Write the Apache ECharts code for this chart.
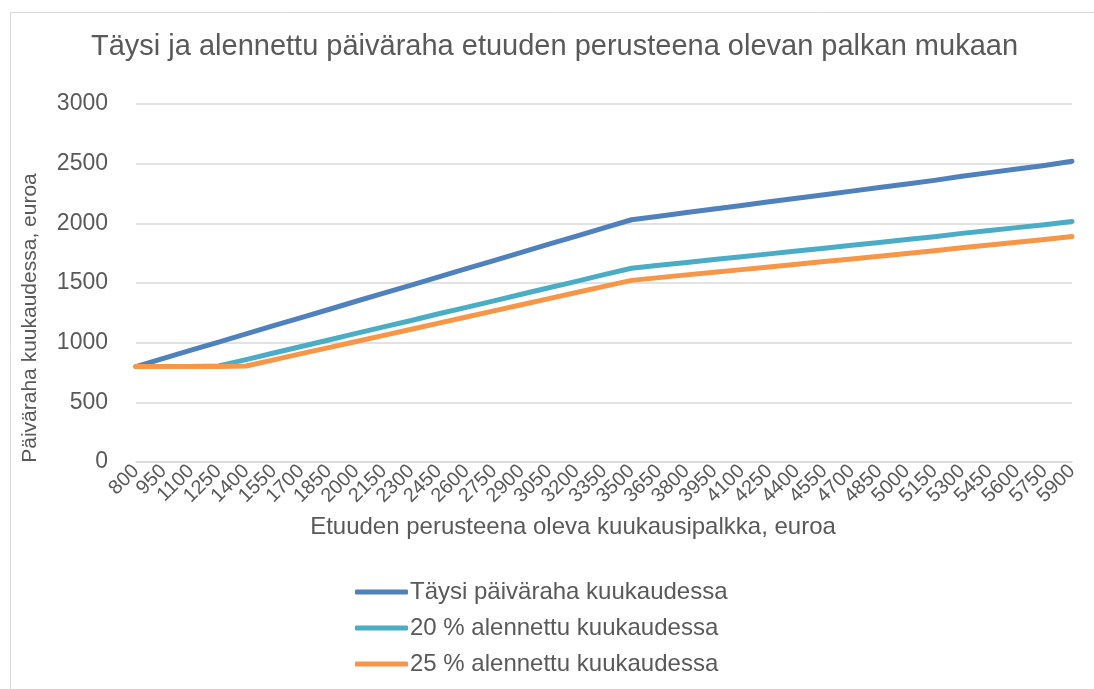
<!DOCTYPE html>
<html>
<head>
<meta charset="utf-8">
<script src="https://cdn.jsdelivr.net/npm/echarts@6/dist/echarts.min.js"></script>
<style>
  html, body { margin: 0; padding: 0; background: #fff; }
  #chart { width: 1094px; height: 689px; }
</style>
</head>
<body>
<div id="chart"></div>
<script>
// kuukausipalkka, euroa
var palkat = ['800','950','1100','1250','1400','1550','1700','1850','2000','2150','2300','2450','2600','2750','2900','3050','3200','3350','3500',
    '3650','3800','3950','4100','4250','4400','4550','4700','4850','5000','5150','5300','5450','5600','5750','5900'];
// Täysi päiväraha kuukaudessa
var taysi = [800,868,937,1005,1073,1142,1210,1278,1347,1415,1483,1552,1620,1688,1757,1825,1893,1962,2030,
    2060,2090,2120,2150,2180,2210,2240,2270,2300,2330,2360,2395,2425,2455,2485,2520];
// 20 % alennettu kuukaudessa
var alennettu20 = [800,800,800,805,858,913,968,1022,1078,1132,1186,1242,1296,1350,1406,1460,1514,1570,1624,
    1648,1672,1696,1720,1744,1768,1792,1816,1840,1864,1888,1916,1940,1964,1988,2016];
// 25 % alennettu kuukaudessa
var alennettu25 = [800,800,800,800,805,856,908,958,1010,1061,1112,1164,1215,1266,1318,1369,1420,1472,1522,
    1545,1568,1590,1612,1635,1658,1680,1702,1725,1748,1770,1796,1819,1841,1864,1890];

var teksti = '#595959';
var fontti = '"Liberation Sans", Arial, sans-serif';

var chart = echarts.init(document.getElementById('chart'));
chart.setOption({
    animation: false,
    textStyle: { fontFamily: fontti },
    // kehys
    graphic: [{
        type: 'rect',
        shape: { x: 10.5, y: 12.5, width: 1200, height: 800 },
        style: { fill: 'none', stroke: '#d9d9d9', lineWidth: 1 },
        silent: true
    }],
    title: {
        text: 'Täysi ja alennettu päiväraha etuuden perusteena olevan palkan mukaan',
        left: 86,
        top: 27,
        textStyle: { fontFamily: fontti, fontSize: 29, fontWeight: 'normal', color: teksti }
    },
    grid: { left: 136, right: 22, top: 104, bottom: 227 },
    xAxis: {
        type: 'category',
        data: palkat,
        boundaryGap: false,
        name: 'Etuuden perusteena oleva kuukausipalkka, euroa',
        nameLocation: 'middle',
        nameGap: 53,
        nameTextStyle: { fontFamily: fontti, fontSize: 24, color: teksti, padding: [0, 62, 0, 0] },
        axisLine: { lineStyle: { color: '#d9d9d9', width: 1.5 } },
        axisTick: { show: false },
        axisLabel: { interval: 0, rotate: 45, fontFamily: fontti, fontSize: 20, color: teksti, margin: 6 }
    },
    yAxis: {
        type: 'value',
        min: 0,
        max: 3000,
        interval: 500,
        name: 'Päiväraha kuukaudessa, euroa',
        nameLocation: 'middle',
        nameGap: 95,
        nameTextStyle: { fontFamily: fontti, fontSize: 21, color: teksti, padding: [0, 70, 0, 0] },
        axisLine: { show: false },
        axisTick: { show: false },
        axisLabel: {
            fontFamily: fontti, fontSize: 23, color: teksti, margin: 28,
            formatter: function (v) { return String(v); }
        },
        splitLine: { lineStyle: { color: '#d9d9d9', width: 1.5 } }
    },
    legend: {
        orient: 'vertical',
        left: 350,
        top: 575,
        itemWidth: 53,
        itemHeight: 5,
        itemGap: 12,
        icon: 'roundRect',
        textStyle: { fontFamily: fontti, fontSize: 24, color: teksti, padding: [0, 0, 0, -3] },
        data: ['Täysi päiväraha kuukaudessa', '20 % alennettu kuukaudessa', '25 % alennettu kuukaudessa']
    },
    series: [{
        name: 'Täysi päiväraha kuukaudessa',
        type: 'line',
        data: taysi,
        showSymbol: false,
        color: '#4f81bd',
        lineStyle: { width: 5, cap: 'round', join: 'round' }
    }, {
        name: '20 % alennettu kuukaudessa',
        type: 'line',
        data: alennettu20,
        showSymbol: false,
        color: '#4bacc6',
        lineStyle: { width: 5, cap: 'round', join: 'round' }
    }, {
        name: '25 % alennettu kuukaudessa',
        type: 'line',
        data: alennettu25,
        showSymbol: false,
        color: '#f79646',
        lineStyle: { width: 5, cap: 'round', join: 'round' }
    }]
});
</script>
</body>
</html>
